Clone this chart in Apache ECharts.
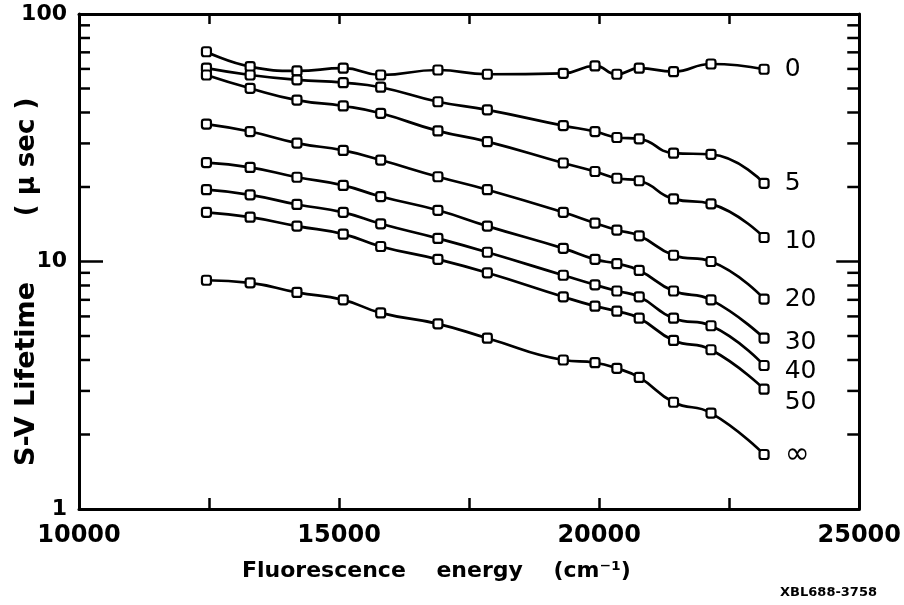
<!DOCTYPE html>
<html>
<head>
<meta charset="utf-8">
<script src="https://cdn.jsdelivr.net/npm/echarts@6/dist/echarts.min.js"></script>
<style>
  html, body { margin: 0; padding: 0; background: #fff; }
  #chart { width: 904px; height: 605px; }
</style>
</head>
<body>
<div id="chart"></div>
<script>
// Fluorescence energy (cm^-1) at which lifetimes were measured
const energy = [12450, 13290, 14190, 15080, 15800, 16900, 17850, 19310, 19920, 20340, 20770, 21430, 22150, 23170];

// Stern-Volmer lifetimes (microseconds), one array per quencher level
const life0   = [70.4, 61.3, 58.9, 60.4, 56.7, 59.4, 57.1, 57.6, 61.7, 57.1, 60.4, 58.5, 62.8, 59.8];
const life5   = [60.4, 56.7, 54.2, 52.8, 50.6, 44.2, 41.0, 35.4, 33.5, 31.7, 31.3, 27.4, 27.1, 20.7];
const life10  = [56.7, 50.1, 44.9, 42.5, 39.7, 33.7, 30.5, 25.0, 23.1, 21.7, 21.2, 17.9, 17.1, 12.5];
const life20  = [35.9, 33.5, 30.1, 28.1, 25.7, 22.0, 19.5, 15.8, 14.3, 13.4, 12.7, 10.6, 10.0, 7.05];
const life30  = [25.1, 24.0, 21.9, 20.3, 18.3, 16.1, 13.9, 11.3, 10.2, 9.8, 9.2, 7.6, 7.0, 4.9];
const life40  = [19.5, 18.6, 17.0, 15.8, 14.2, 12.4, 10.9, 8.8, 8.05, 7.6, 7.2, 5.9, 5.5, 3.8];
const life50  = [15.8, 15.1, 13.9, 12.9, 11.5, 10.2, 9.0, 7.2, 6.6, 6.3, 5.9, 4.8, 4.4, 3.05];
const lifeInf = [8.4, 8.2, 7.5, 7.0, 6.2, 5.6, 4.9, 4.0, 3.9, 3.7, 3.4, 2.7, 2.44, 1.66];

const curveNames = ['0', '5', '10', '20', '30', '40', '50', '\u221E'];
const curveValues = [life0, life5, life10, life20, life30, life40, life50, lifeInf];

// Minor ticks of the logarithmic lifetime axis
const minorTickValues = [2, 3, 4, 5, 6, 7, 8, 9, 20, 30, 40, 50, 60, 70, 80, 90];

// Small vertical nudges so the end labels sit where they read best
const labelNudge = [0, 0, 4, 0, 4, 6, 13, 1];

const numFont = '"DejaVu Sans", sans-serif';
const ink = '#000';

const chart = echarts.init(document.getElementById('chart'), null, { renderer: 'canvas' });

const curveSeries = curveValues.map((vals, i) => ({
  name: curveNames[i],
  type: 'line',
  xAxisIndex: 0,
  yAxisIndex: 0,
  smooth: 0.5,
  symbol: 'roundRect',
  symbolSize: 9,
  showAllSymbol: true,
  lineStyle: { color: ink, width: 2.7 },
  itemStyle: { color: '#fff', borderColor: ink, borderWidth: 2.2 },
  emphasis: { disabled: true },
  z: 3,
  data: vals.map((v, j) => {
    const item = { value: [energy[j], v] };
    if (j === vals.length - 1) {
      item.label = {
        show: true,
        position: 'right',
        distance: 15,
        offset: [0, labelNudge[i]],
        formatter: curveNames[i],
        color: ink,
        fontFamily: numFont,
        fontSize: i === 7 ? 30 : 25,
        fontWeight: 'normal'
      };
    }
    return item;
  })
}));

const minorTickSeries = {
  type: 'custom',
  xAxisIndex: 0,
  yAxisIndex: 0,
  clip: false,
  silent: true,
  z: 5,
  data: minorTickValues.map(v => [10000, v]),
  renderItem: function (params, api) {
    const v = api.value(1);
    const left = api.coord([10000, v]);
    const right = api.coord([25000, v]);
    const style = { stroke: ink, lineWidth: 2.5 };
    return {
      type: 'group',
      children: [
        { type: 'line', shape: { x1: left[0], y1: left[1], x2: left[0] + 11, y2: left[1] }, style: style },
        { type: 'line', shape: { x1: right[0], y1: right[1], x2: right[0] - 12, y2: right[1] }, style: style }
      ]
    };
  }
};

const xTickFmt = v => (v % 5000 === 0 ? String(v) : '');

const option = {
  animation: false,
  backgroundColor: '#fff',
  grid: { left: 79, right: 44, top: 14, bottom: 96, containLabel: false },
  xAxis: [
    {
      type: 'value', position: 'bottom', min: 10000, max: 25000, interval: 2500,
      axisLine: { show: true, lineStyle: { color: ink, width: 3 } },
      axisTick: { show: true, inside: true, length: 11, lineStyle: { color: ink, width: 2.5 } },
      axisLabel: { formatter: xTickFmt, color: ink, fontFamily: numFont, fontSize: 24, fontWeight: 'bold', margin: 15 },
      splitLine: { show: false }
    },
    {
      type: 'value', position: 'top', min: 10000, max: 25000, interval: 2500,
      axisLine: { show: true, lineStyle: { color: ink, width: 3 } },
      axisTick: { show: true, inside: true, length: 10, lineStyle: { color: ink, width: 2.5 } },
      axisLabel: { show: false },
      splitLine: { show: false }
    }
  ],
  yAxis: [
    {
      type: 'log', logBase: 10, min: 1, max: 100, position: 'left',
      axisLine: { show: true, lineStyle: { color: ink, width: 3 } },
      axisTick: { show: true, inside: true, length: 24, lineStyle: { color: ink, width: 2.5 } },
      axisLabel: {
        color: ink, fontFamily: numFont, fontSize: 22, fontWeight: 'bold', margin: 12,
        formatter: v => String(Math.round(v))
      },
      splitLine: { show: false }
    },
    {
      type: 'log', logBase: 10, min: 1, max: 100, position: 'right',
      axisLine: { show: true, lineStyle: { color: ink, width: 3 } },
      axisTick: { show: true, inside: true, length: 23, lineStyle: { color: ink, width: 2.5 } },
      axisLabel: { show: false },
      splitLine: { show: false }
    }
  ],
  series: curveSeries.concat([minorTickSeries]),
  graphic: [
    {
      type: 'text', x: 27, y: 374, rotation: Math.PI / 2,
      style: { text: 'S-V Lifetime', fill: ink, font: 'bold 27px "DejaVu Sans", sans-serif', textAlign: 'center', textVerticalAlign: 'middle' }
    },
    {
      type: 'text', x: 27, y: 157, rotation: Math.PI / 2,
      style: { text: '( \u03BC sec )', fill: ink, font: 'bold 26px "DejaVu Sans", sans-serif', textAlign: 'center', textVerticalAlign: 'middle' }
    },
    {
      type: 'text', x: 242, y: 571,
      style: { text: 'Fluorescence    energy    (cm\u207B\u00B9)', fill: ink, font: 'bold 22px "DejaVu Sans", sans-serif', textAlign: 'left', textVerticalAlign: 'middle' }
    },
    {
      type: 'text', x: 877, y: 593,
      style: { text: 'XBL688-3758', fill: ink, font: 'bold 13px "DejaVu Sans", sans-serif', textAlign: 'right', textVerticalAlign: 'middle' }
    }
  ]
};

chart.setOption(option);
</script>
</body>
</html>
